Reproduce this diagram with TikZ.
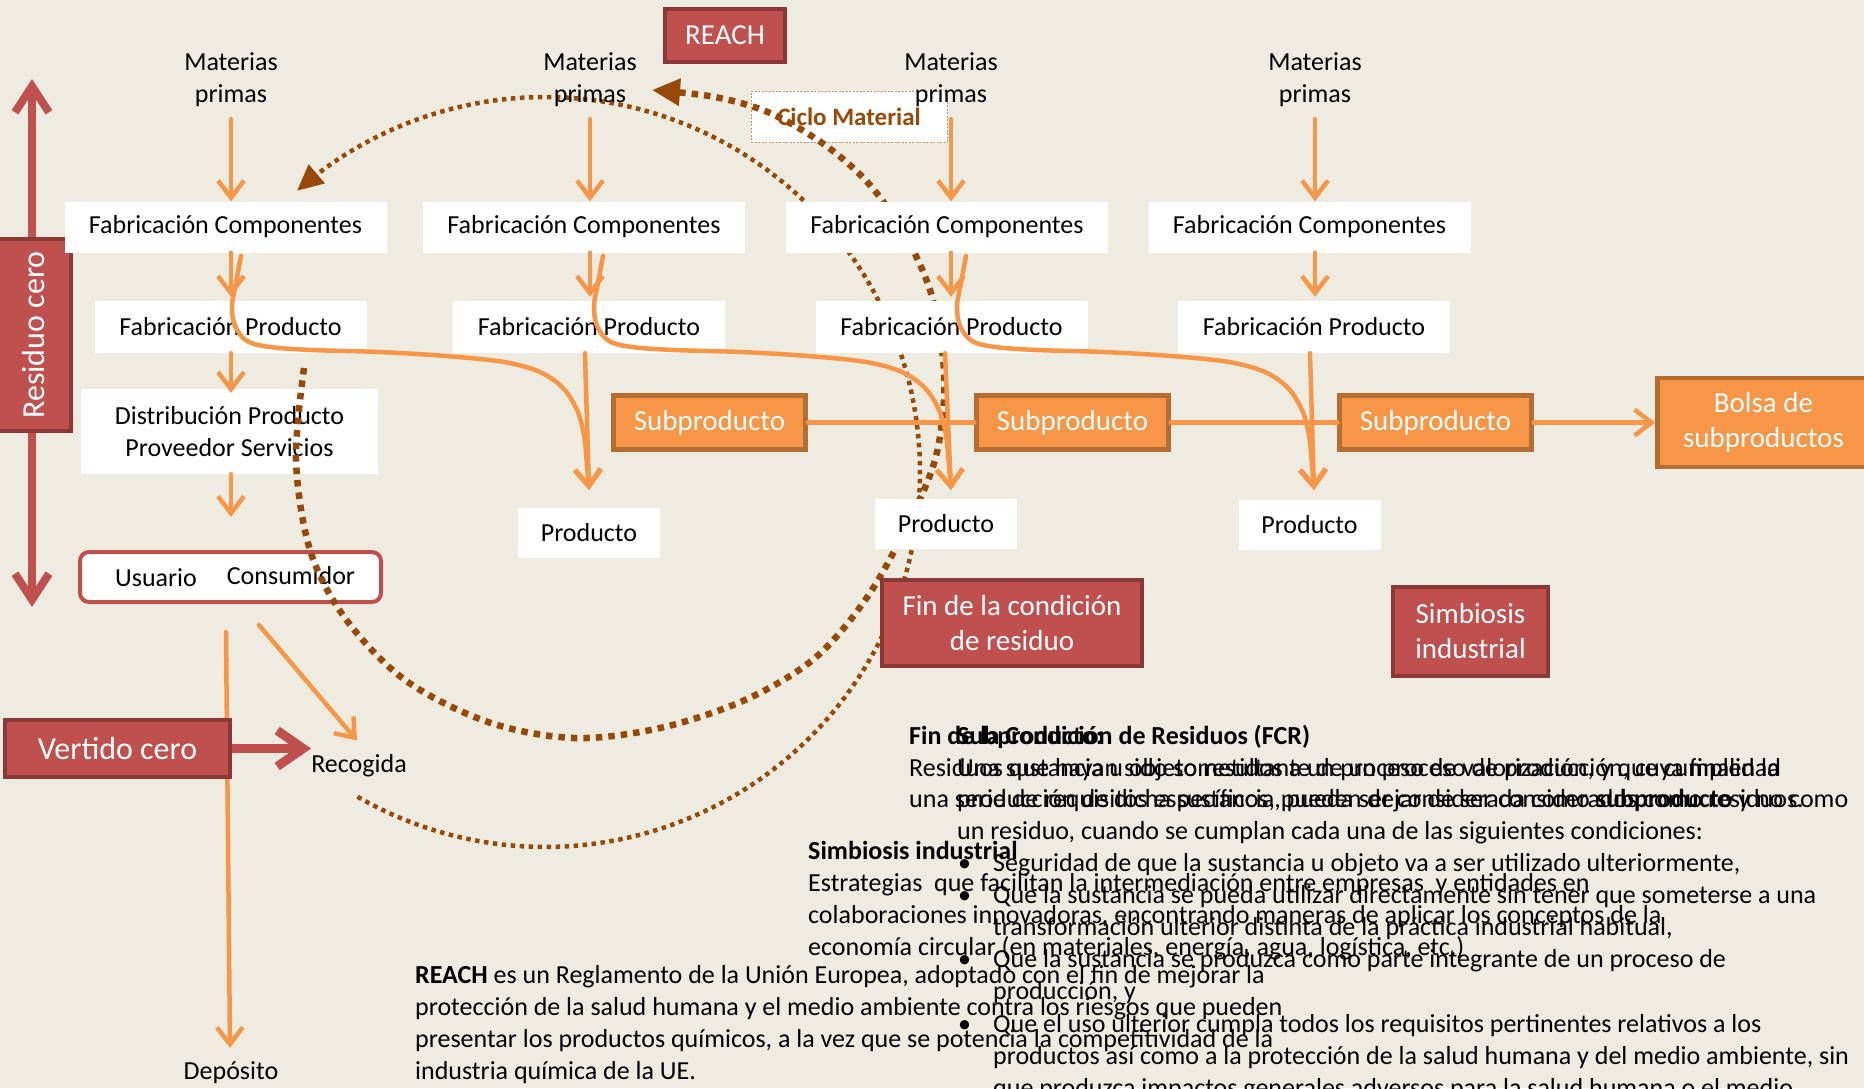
\documentclass[tikz,border=0pt]{standalone}
\usepackage{fontspec}
\setmainfont{Carlito}
\usetikzlibrary{arrows.meta}

\definecolor{paper}{RGB}{238,236,225}
\definecolor{brick}{RGB}{192,80,77}
\definecolor{brickdark}{RGB}{140,56,54}
\definecolor{amber}{RGB}{247,150,70}
\definecolor{amberdark}{RGB}{182,109,49}
\definecolor{rust}{RGB}{152,72,7}
\definecolor{sand}{RGB}{196,150,110}

\tikzset{
  lbl/.style={inner sep=0pt, align=center, font=\fontsize{26}{32}\selectfont},
  whitebox/.style={fill=white, inner sep=0pt, align=center, font=\fontsize{26}{32}\selectfont},
  redbox/.style={fill=brick, draw=brickdark, line width=4pt, text=white, inner sep=0pt, align=center, font=\fontsize{29}{35}\selectfont},
  amberbox/.style={fill=amber, draw=amberdark, line width=4.5pt, text=white, inner sep=0pt, align=center, font=\fontsize{29}{35}\selectfont},
  flow/.style={draw=amber, line width=4.5pt, line cap=round},
  flowarrow/.style={flow, -{Straight Barb[length=17pt,width=26pt]}},
  redarrow/.style={draw=brick, line width=8pt, {Straight Barb[length=26pt,width=34pt]}-{Straight Barb[length=26pt,width=34pt]}},
  bigloop/.style={draw=rust, line width=6.5pt, dash pattern=on 6.5pt off 6pt, -{Triangle[length=28pt,width=26pt]}},
  smallloop/.style={draw=rust, line width=4.5pt, dash pattern=on 4.5pt off 4.5pt, -{Triangle[length=26pt,width=24pt]}},
  para/.style={inner sep=0pt, anchor=base west, font=\fontsize{26}{32}\selectfont},
}

\begin{document}
\begin{tikzpicture}[x=1pt,y=-1pt]
\path[fill=paper] (0,0) rectangle (1864,1088);
\useasboundingbox (0,0) rectangle (1864,1088);
\clip (0,0) rectangle (1864,1088);

% zero-waste axis on the left
\coordinate (rtop) at (32,79);
\coordinate (rbot) at (32,607);
\draw[redarrow] (rtop) -- (rbot);
\node[redbox, rotate=90, minimum width=192pt, minimum height=74pt, font=\fontsize{32}{38}\selectfont] (residuo) at (34,335) {Residuo cero};

% boxes that the material loops run across
\node[whitebox, minimum width=297pt, minimum height=85pt] (dist) at (229.5,431.5) {Distribución Producto\\Proveedor Servicios};
\node[fill=white, draw=brick, line width=4pt, rounded corners=9pt, minimum width=301pt, minimum height=50pt, inner sep=0pt] (user) at (230.5,577) {};
\node[lbl] (usuario) at (156,578) {Usuario};
\node[lbl] (consumidor) at (291,576) {Consumidor};
\node[fill=white, draw=sand, line width=1pt, dash pattern=on 2pt off 1.5pt, minimum width=196pt, minimum height=51pt, inner sep=0pt, text=rust, font=\fontsize{25}{30}\selectfont\bfseries] (ciclo) at (849,116.5) {Ciclo Material};

% material loops
\draw[smallloop] plot[domain=240:491.4, samples=140, variable=\t] ({545+375*cos(\t)}, {472-375*sin(\t)});
\draw[bigloop] plot[smooth, tension=0.55] coordinates {(304,368) (296,460) (310,550) (345,618) (405,680) (488,722) (574,738) (660,728) (745,700) (815,658) (868,596) (910,520) (935,460) (944,400) (942,350) (930,290) (905,235) (870,185) (825,145) (770,113) (715,97) (652,90)};

% production columns
\foreach \i/\x in {1/225.5, 2/584, 3/947, 4/1309.5}
  \node[whitebox, minimum width=322pt, minimum height=51pt] (comp\i) at (\x,227) {Fabricación Componentes};
\foreach \i/\x in {1/230.5, 2/589, 3/951.5, 4/1314}
  \node[whitebox, minimum width=272pt, minimum height=52pt] (prod\i) at (\x,327) {Fabricación Producto};
\node[whitebox, minimum width=142pt, minimum height=50pt] (out2) at (589,533) {Producto};
\node[whitebox, minimum width=142pt, minimum height=50pt] (out3) at (946,523.5) {Producto};
\node[whitebox, minimum width=142pt, minimum height=50pt] (out4) at (1309.5,524.5) {Producto};

% by-product chain
\node[amberbox, minimum width=192pt, minimum height=54pt] (sp1) at (709.5,422.5) {Subproducto};
\node[amberbox, minimum width=192pt, minimum height=54pt] (sp2) at (1072.5,422.5) {Subproducto};
\node[amberbox, minimum width=192pt, minimum height=54pt] (sp3) at (1435.5,422.5) {Subproducto};
\node[amberbox, minimum width=212pt, minimum height=89pt] (bolsa) at (1763.5,422.5) {Bolsa de\\subproductos};
\draw[flow] (sp1.east) -- (sp2.west);
\draw[flow] (sp2.east) -- (sp3.west);
\draw[flowarrow] (sp3.east) -- (bolsa.west);

% raw material inflows and production steps
\foreach \i/\x in {1/231, 2/590, 3/951, 4/1315} {
  \coordinate (feed\i) at (\x,119);
  \draw[flowarrow] (feed\i) -- (feed\i |- comp\i.north);
  \draw[flowarrow, shorten >=4pt] (comp\i.south -| feed\i) -- (prod\i.north -| feed\i);
}
\draw[flowarrow] (prod1.south -| feed1) -- ([yshift=-4pt]dist.north -| feed1);
\coordinate (userin) at (231,517);
\draw[flowarrow] (dist.south -| feed1) -- (userin);

\coordinate (tip2) at (589,490);
\coordinate (tip3) at (951,490);
\coordinate (tip4) at (1314,490);
\draw[flowarrow] (prod2.south -| 585,0) -- (tip2);
\draw[flowarrow] (prod3.south -| 945,0) -- (tip3);
\draw[flowarrow] (prod4.south -| 1310,0) -- (tip4);

% component streams diverted to the next column
\foreach \s in {0, 362, 725}
  \draw[flowarrow] plot[smooth, tension=0.55] coordinates {(241+\s,256) (236+\s,283) (232+\s,306) (235+\s,326) (247+\s,341) (270+\s,347) (312+\s,350) (379+\s,352) (446+\s,356) (504+\s,362) (540+\s,372) (563+\s,388) (577+\s,410) (584+\s,435) (587+\s,465) (589+\s,490)};

% end of life
\coordinate (dropstart) at (226,632);
\coordinate (dropend) at (230,1048);
\draw[flowarrow] (dropstart) -- (dropend);
\node[lbl] (deposito) at (231,1073) {Depósito};
\node[lbl] (recogida) at (359,766) {Recogida};
\coordinate (pickstart) at (259,625);
\draw[flowarrow] (pickstart) -- ([xshift=-2pt,yshift=14pt]recogida.north);
\node[redbox, minimum width=225pt, minimum height=57pt, font=\fontsize{32}{38}\selectfont] (vertido) at (117.5,748.5) {Vertido cero};
\draw[draw=brick, line width=9pt, -{Straight Barb[length=26pt,width=36pt]}] (vertido.east) -- (recogida.west |- vertido.east);

% concept labels
\node[redbox, minimum width=120pt, minimum height=53pt] (reach) at (725,35.5) {REACH};
\node[redbox, minimum width=260pt, minimum height=86pt] (fcr) at (1012,623) {Fin de la condición\\de residuo};
\node[redbox, minimum width=155pt, minimum height=89pt] (simb) at (1470.5,631.5) {Simbiosis\\industrial};

% raw materials
\foreach \i in {1,2,3,4}
  \node[lbl] (mp\i) at ([yshift=39.5pt]feed\i) {Materias\\primas};

% definitions
\node[para] (fcr0) at (909,744) {\textbf{Fin de la Condición de Residuos (FCR)}};
\node[para] (fcr1) at (909,776) {Residuos que hayan sido sometidos a un proceso de valorización, y que cumplen la};
\node[para] (fcr2) at (909,807) {una serie de requisitos específicos, pueden dejar de ser considerados como residuos.};
\node[para] (spd0) at (957,744) {\textbf{Subproducto:}};
\node[para] (spd1) at (957,776) {Una sustancia u objeto resultante de un proceso de producción, cuya finalidad};
\node[para] (spd2) at (957,807) {producción de dicha sustancia, pueda ser considerada como \textbf{subproducto} y no como};
\node[para] (spd3) at (957,839) {un residuo, cuando se cumplan cada una de las siguientes condiciones:};
\node[para] (dot1) at (958,871) {•};
\node[para] (cond1) at (993,871) {Seguridad de que la sustancia u objeto va a ser utilizado ulteriormente,};
\node[para] (dot2) at (958,903) {•};
\node[para] (cond2a) at (993,903) {Que la sustancia se pueda utilizar directamente sin tener que someterse a una};
\node[para] (cond2b) at (993,935) {transformación ulterior distinta de la práctica industrial habitual,};
\node[para] (dot3) at (958,967) {•};
\node[para] (cond3a) at (993,967) {Que la sustancia se produzca como parte integrante de un proceso de};
\node[para] (cond3b) at (993,999) {producción, y};
\node[para] (dot4) at (958,1032) {•};
\node[para] (cond4a) at (993,1032) {Que el uso ulterior cumpla todos los requisitos pertinentes relativos a los};
\node[para] (cond4b) at (993,1064) {productos así como a la protección de la salud humana y del medio ambiente, sin};
\node[para] (cond4c) at (993,1096) {que produzca impactos generales adversos para la salud humana o el medio};

\node[para] (sim0) at (808,859) {\textbf{Simbiosis industrial}};
\node[para] (sim1) at (808,891) {Estrategias~ que facilitan la intermediación entre empresas~ y entidades en};
\node[para] (sim2) at (808,923) {colaboraciones innovadoras, encontrando maneras de aplicar los conceptos de la};
\node[para] (sim3) at (808,955) {economía circular (en materiales, energía, agua, logística, etc.)};

\node[para] (rea0) at (415,983) {\textbf{REACH} es un Reglamento de la Unión Europea, adoptado con el fin de mejorar la};
\node[para] (rea1) at (415,1015) {protección de la salud humana y el medio ambiente contra los riesgos que pueden};
\node[para] (rea2) at (415,1047) {presentar los productos químicos, a la vez que se potencia la competitividad de la};
\node[para] (rea3) at (415,1079) {industria química de la UE.};
\end{tikzpicture}
\end{document}
